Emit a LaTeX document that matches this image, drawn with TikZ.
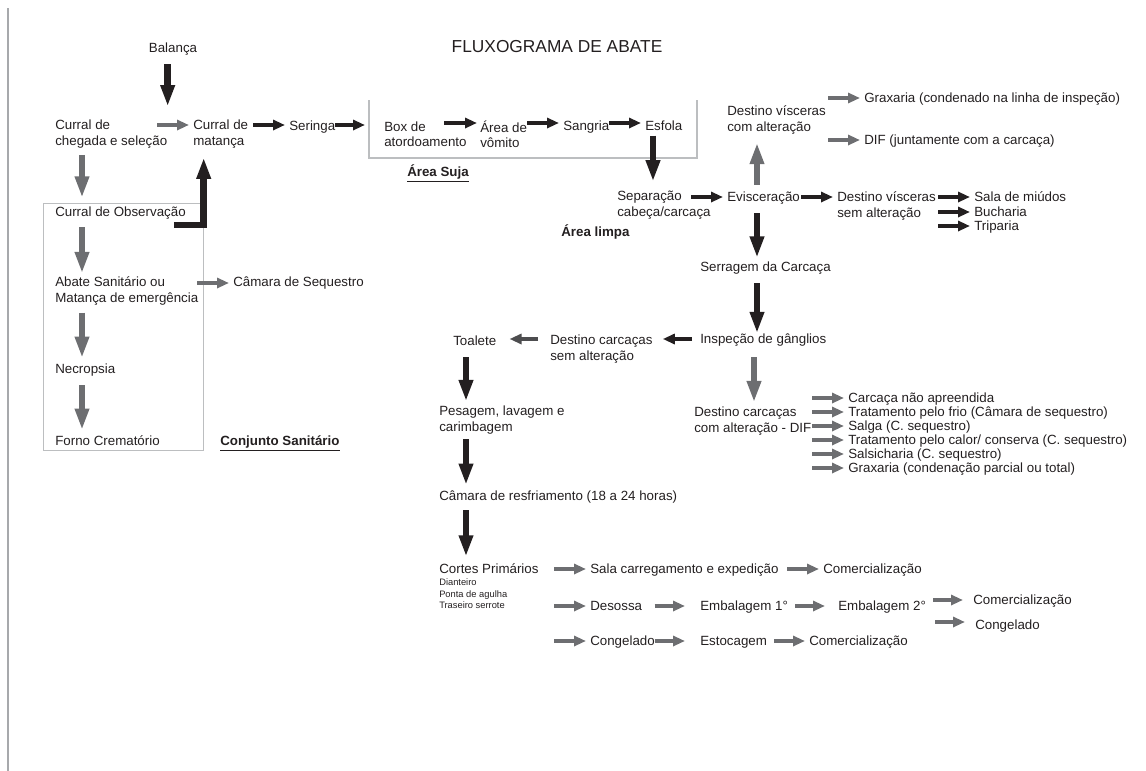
\documentclass[tikz,border=0pt]{standalone}
\usepackage{fontspec}
\setmainfont{Liberation Sans}
\usetikzlibrary{arrows.meta}

\definecolor{ink}{HTML}{231F20}
\definecolor{arrowgray}{HTML}{6D6E71}
\definecolor{darkgray}{HTML}{4D4D4F}
\definecolor{linegray}{HTML}{BCBEC0}
\definecolor{edgegray}{HTML}{A7A9AC}

\begin{document}
\begin{tikzpicture}[x=0.75pt, y=-0.75pt]
    \tikzstyle{txt}=[anchor=west, inner sep=0pt, align=left, text=ink, font=\fontsize{10}{11.5}\selectfont];
    \tikzstyle{txtone}=[txt, text height=7.3pt, text depth=2.4pt];
    \tikzstyle{areatxt}=[txtone, font=\bfseries\fontsize{10}{11.5}\selectfont];
    \tikzstyle{smalltxt}=[txt, font=\fontsize{7}{8.6}\selectfont];
    \tikzstyle{harrow}=[line width=3.6pt, -{Triangle[length=9pt, width=7.5pt]}, shorten >=3pt];
    \tikzstyle{varrow}=[line width=4.8pt, -{Triangle[length=16pt, width=10pt]}];
    \tikzstyle{kh}=[harrow, color=ink];
    \tikzstyle{gh}=[harrow, color=arrowgray];
    \tikzstyle{kv}=[varrow, color=ink];
    \tikzstyle{gv}=[varrow, color=arrowgray];

    \useasboundingbox (0, 0) rectangle (1146, 771);

    % frames
    \draw[color=edgegray, line width=0.9pt] (8, 8) -- (8, 771);
    \draw[color=linegray, line width=0.8pt] (369, 100) |- (697, 158) -- (697, 100);
    \draw[color=linegray, line width=0.6pt] (43, 203) rectangle (203, 450);

    \node (title) at (557, 47) [text=ink, font=\fontsize{13}{15}\selectfont] {FLUXOGRAMA DE ABATE};

    % conjunto sanitario
    \node (balanca) at (173, 49) [txtone, anchor=center] {Balança};
    \node (chegada) at (55, 134) [txt] {Curral de\\chegada e seleção};
    \node (matanca) at (193, 134) [txt] {Curral de\\matança};
    \node (obs) at (55, 213) [txtone] {Curral de Observação};
    \node (abate) at (55, 291) [txt] {Abate Sanitário ou\\Matança de emergência};
    \node (sequestro) at (233, 283) [txtone] {Câmara de Sequestro};
    \node (necropsia) at (55, 370) [txtone] {Necropsia};
    \node (forno) at (55, 442) [txtone] {Forno Crematório};
    \node (conjunto) at (220, 442) [areatxt] {\underline{Conjunto Sanitário}};

    % area suja
    \node (seringa) at (289, 127) [txtone] {Seringa};
    \node (box) at (384, 134) [txt] {Box de\\atordoamento};
    \node (vomito) at (480, 134) [txt] {Área de\\vômito};
    \node (sangria) at (563, 127) [txtone] {Sangria};
    \node (esfola) at (645, 127) [txtone] {Esfola};
    \node (suja) at (407, 173) [areatxt] {\underline{Área Suja}};

    % area limpa
    \node (separacao) at (617, 205) [txt] {Separação\\cabeça/carcaça};
    \node (limpa) at (561, 233) [areatxt] {Área limpa};
    \node (evisc) at (727, 198) [txtone] {Evisceração};
    \node (vcom) at (727, 120) [txt] {Destino vísceras\\com alteração};
    \node (grax) at (864, 99) [txtone] {Graxaria (condenado na linha de inspeção)};
    \node (dif) at (864, 141) [txtone] {DIF (juntamente com a carcaça)};
    \node (vsem) at (837, 206) [txt] {Destino vísceras\\sem alteração};
    \node (miudos) at (974, 198) [txtone] {Sala de miúdos};
    \node (bucharia) at (974, 213) [txtone] {Bucharia};
    \node (triparia) at (974, 227) [txtone] {Triparia};
    \node (serragem) at (700, 268) [txtone] {Serragem da Carcaça};
    \node (inspecao) at (700, 340) [txtone] {Inspeção de gânglios};
    \node (csem) at (550, 349) [txt] {Destino carcaças\\sem alteração};
    \node (toalete) at (453, 342) [txtone] {Toalete};
    \node (pesagem) at (439, 420) [txt] {Pesagem, lavagem e\\carimbagem};
    \node (ccom) at (694, 421) [txt] {Destino carcaças\\com alteração - DIF};
    \node (camara) at (439, 497) [txtone] {Câmara de resfriamento (18 a 24 horas)};
    \node (cortes) at (439, 570) [txtone] {Cortes Primários};
    \node (tipos) at (439, 594) [smalltxt] {Dianteiro\\Ponta de agulha\\Traseiro serrote};

    % cortes
    \node (sala) at (590, 570) [txtone] {Sala carregamento e expedição};
    \node (com1) at (823, 570) [txtone] {Comercialização};
    \node (desossa) at (590, 607) [txtone] {Desossa};
    \node (emb1) at (700, 607) [txtone] {Embalagem 1°};
    \node (emb2) at (838, 607) [txtone] {Embalagem 2°};
    \node (com2) at (973, 601) [txtone] {Comercialização};
    \node (cong2) at (975, 626) [txtone] {Congelado};
    \node (cong) at (590, 642) [txtone] {Congelado};
    \node (estoc) at (700, 642) [txtone] {Estocagem};
    \node (com3) at (809, 642) [txtone] {Comercialização};

    % destinos DIF
    \foreach \yy/\txt [count=\i] in {399/{Carcaça não apreendida}, 413/{Tratamento pelo frio (Câmara de sequestro)}, 427/{Salga (C. sequestro)}, 441/{Tratamento pelo calor/ conserva (C. sequestro)}, 455/{Salsicharia (C. sequestro)}, 469/{Graxaria (condenação parcial ou total)}} {
        \node (dest\i) at (848, \yy) [txtone] {\txt};
        \draw ([xshift=-27pt, yshift=0.75pt]dest\i.west) edge[gh] ([yshift=0.75pt]dest\i.west);
    }

    % vertical arrows
    \draw ([xshift=-4pt]balanca.south) edge[kv, shorten <=6.4pt, shorten >=10pt] ([xshift=-4pt]balanca.south |- matanca.north);
    \draw ([xshift=20.25pt]chegada.south west) edge[gv, shorten <=5pt, shorten >=6.4pt] ([xshift=20.25pt]chegada.south west |- obs.north);
    \draw ([xshift=20.25pt]obs.south west) edge[gv, shorten <=5.6pt, shorten >=2.6pt] ([xshift=20.25pt]obs.south west |- abate.north);
    \draw ([xshift=20.25pt]abate.south west) edge[gv, shorten <=5.6pt, shorten >=4pt] ([xshift=20.25pt]abate.south west |- necropsia.north);
    \draw ([xshift=20.25pt]necropsia.south west) edge[gv, shorten <=6.4pt, shorten >=4pt] ([xshift=20.25pt]necropsia.south west |- forno.north);
    \draw ([xshift=6pt]esfola.south west) edge[kv, shorten <=1.5pt, shorten >=7pt] ([xshift=6pt]esfola.south west |- separacao.north);
    \draw ([xshift=22.5pt]evisc.north west) edge[gv, shorten <=5pt, shorten >=6.4pt] ([xshift=22.5pt]evisc.north west |- vcom.south);
    \draw ([xshift=22.5pt]evisc.south west) edge[kv, shorten <=6.4pt, shorten >=2.6pt] ([xshift=22.5pt]evisc.south west |- serragem.north);
    \draw ([xshift=42.75pt]serragem.south west) edge[kv, shorten <=6.4pt] ([xshift=42.75pt]serragem.south west |- inspecao.north);
    \draw ([xshift=40.5pt]inspecao.south west) edge[gv, shorten <=8pt, shorten >=3.4pt] ([xshift=40.5pt]inspecao.south west |- ccom.north);
    \draw ([xshift=9.75pt]toalete.south west) edge[kv, shorten <=6.4pt, shorten >=3.4pt] ([xshift=9.75pt]toalete.south west |- pesagem.north);
    \draw ([xshift=20.25pt]pesagem.south west) edge[kv, shorten <=4pt, shorten >=4pt] ([xshift=20.25pt]pesagem.south west |- camara.north);
    \draw ([xshift=20.25pt]camara.south west) edge[kv, shorten <=5pt, shorten >=5pt] ([xshift=20.25pt]camara.south west |- cortes.north);
    \draw[kv, shorten >=7pt] ([xshift=-9pt, yshift=-4pt]obs.south east) -| ([xshift=-12.75pt]matanca.south);

    % horizontal arrows, linha de abate
    \draw ([xshift=-27pt, yshift=6.75pt]matanca.west) edge[gh] ([yshift=6.75pt]matanca.west);
    \draw ([xshift=-27pt, yshift=1.5pt]seringa.west) edge[kh] ([yshift=1.5pt]seringa.west);
    \draw ([yshift=1.5pt]seringa.east) edge[kh, shorten >=14.25pt] ([yshift=1.5pt]seringa.east -| box.west);
    \draw ([xshift=-27pt, yshift=8.25pt]vomito.west) edge[kh, shorten >=2.25pt] ([yshift=8.25pt]vomito.west);
    \draw ([xshift=-27pt, yshift=3pt]sangria.west) edge[kh] ([yshift=3pt]sangria.west);
    \draw ([xshift=-27pt, yshift=3pt]esfola.west) edge[kh] ([yshift=3pt]esfola.west);
    \draw ([xshift=-27pt]sequestro.west) edge[gh] (sequestro.west);
    \draw ([xshift=-27pt, yshift=0.75pt]evisc.west) edge[kh] ([yshift=0.75pt]evisc.west);
    \draw ([xshift=-27pt, yshift=6.75pt]vsem.west) edge[kh] ([yshift=6.75pt]vsem.west);
    \foreach \dest in {miudos, bucharia, triparia}
        \draw ([xshift=-27pt, yshift=0.75pt]\dest.west) edge[kh] ([yshift=0.75pt]\dest.west);
    \draw ([xshift=-27pt, yshift=0.75pt]grax.west) edge[gh] ([yshift=0.75pt]grax.west);
    \draw ([xshift=-27pt, yshift=0.75pt]dif.west) edge[gh] ([yshift=0.75pt]dif.west);
    \draw ([yshift=0.75pt]inspecao.west) edge[kh, shorten <=6pt, shorten >=7.5pt] ([yshift=0.75pt]inspecao.west -| csem.east);
    \draw ([yshift=2.25pt]toalete.east -| csem.west) edge[harrow, color=darkgray, shorten <=9pt, shorten >=9.75pt] ([yshift=2.25pt]toalete.east);

    % horizontal arrows, cortes
    \foreach \dest in {sala, desossa, cong, com1}
        \draw ([xshift=-27pt, yshift=0.75pt]\dest.west) edge[gh] ([yshift=0.75pt]\dest.west);
    \draw ([xshift=-34pt, yshift=0.75pt]emb1.west) edge[gh, shorten >=11.25pt] ([yshift=0.75pt]emb1.west);
    \draw ([xshift=-32.25pt, yshift=0.75pt]emb2.west) edge[gh, shorten >=9.75pt] ([yshift=0.75pt]emb2.west);
    \draw ([xshift=-30pt, yshift=0.75pt]com2.west) edge[gh, shorten >=7.5pt] ([yshift=0.75pt]com2.west);
    \draw ([xshift=-30pt, yshift=3pt]cong2.west) edge[gh, shorten >=7.5pt] ([yshift=3pt]cong2.west);
    \draw ([xshift=-34pt, yshift=0.75pt]estoc.west) edge[gh, shorten >=11.25pt] ([yshift=0.75pt]estoc.west);
    \draw ([xshift=-26.25pt, yshift=0.75pt]com3.west) edge[gh] ([yshift=0.75pt]com3.west);

\end{tikzpicture}
\end{document}
